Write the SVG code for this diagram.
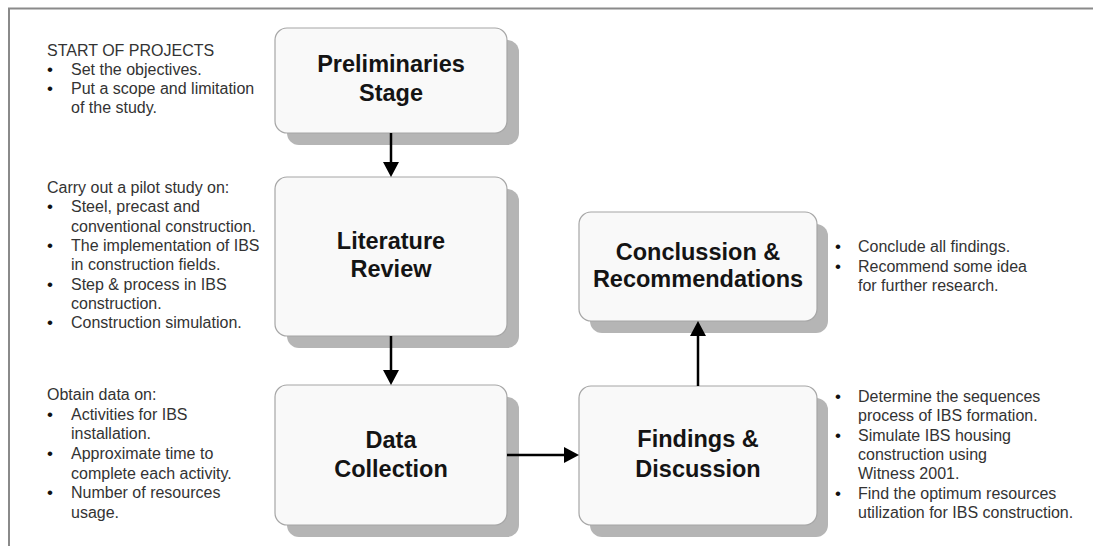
<svg xmlns="http://www.w3.org/2000/svg" width="1093" height="546" viewBox="0 0 1093 546">
<defs>
<style>
.frame{stroke:#8a8a8a;stroke-width:2;fill:none}
.shadow{fill:#b5b5b5}
.box{fill:#f9f9f9;stroke:#a6a6a6;stroke-width:1.2}
.title{font-family:"Liberation Sans",Arial,sans-serif;font-weight:bold;font-size:23.5px;fill:#141414;text-anchor:middle}
.body{font-family:"Liberation Sans",Arial,sans-serif;font-size:16px;fill:#333}
.bul{font-size:17px;fill:#111}
.conn{stroke:#000;stroke-width:2.5;fill:none;marker-end:url(#ah)}
</style>
<marker id="ah" markerWidth="16" markerHeight="16" refX="7" refY="8" orient="auto" markerUnits="userSpaceOnUse">
<path d="M0,0 L15,8 L0,16 z" fill="#000"/>
</marker>
</defs>
<rect width="1093" height="546" fill="#fff"/>
<path class="frame" d="M9,546 V8.5 H1093"/>

<g id="preliminaries">
<rect class="shadow" x="287" y="40" width="232" height="105" rx="12"/>
<rect class="box" x="275" y="28" width="232" height="105" rx="12"/>
<text class="title" x="391" y="72">Preliminaries</text>
<text class="title" x="391" y="101">Stage</text>
</g>

<g id="literature">
<rect class="shadow" x="287" y="189" width="232" height="159" rx="12"/>
<rect class="box" x="275" y="177" width="232" height="159" rx="12"/>
<text class="title" x="391" y="249">Literature</text>
<text class="title" x="391" y="277">Review</text>
</g>

<g id="data">
<rect class="shadow" x="287" y="397" width="232" height="140" rx="12"/>
<rect class="box" x="275" y="385" width="232" height="140" rx="12"/>
<text class="title" x="391" y="448">Data</text>
<text class="title" x="391" y="477">Collection</text>
</g>

<g id="conclusion">
<rect class="shadow" x="590" y="224" width="238" height="109" rx="12"/>
<rect class="box" x="579" y="212" width="238" height="109" rx="12"/>
<text class="title" x="698" y="260">Conclussion &amp;</text>
<text class="title" x="698" y="287">Recommendations</text>
</g>

<g id="findings">
<rect class="shadow" x="590" y="398" width="238" height="139" rx="12"/>
<rect class="box" x="579" y="386" width="238" height="139" rx="12"/>
<text class="title" x="698" y="447">Findings &amp;</text>
<text class="title" x="698" y="477">Discussion</text>
</g>

<g id="connectors">
<line class="conn" x1="391" y1="133" x2="391" y2="169"/>
<line class="conn" x1="391" y1="336" x2="391" y2="377"/>
<line class="conn" x1="507" y1="455" x2="571" y2="455"/>
<line class="conn" x1="698" y1="386" x2="698" y2="329"/>
</g>

<g id="note-start" class="body">
<text x="47" y="56">START OF PROJECTS</text>
<text class="bul" x="47" y="75">•</text><text x="71" y="75">Set the objectives.</text>
<text class="bul" x="47" y="94">•</text><text x="71" y="94">Put a scope and limitation</text>
<text x="71" y="113">of the study.</text>
</g>

<g id="note-literature" class="body">
<text x="47" y="193">Carry out a pilot study on:</text>
<text class="bul" x="47" y="212">•</text><text x="71" y="212">Steel, precast and</text>
<text x="71" y="232">conventional construction.</text>
<text class="bul" x="47" y="251">•</text><text x="71" y="251">The implementation of IBS</text>
<text x="71" y="270">in construction fields.</text>
<text class="bul" x="47" y="290">•</text><text x="71" y="290">Step &amp; process in IBS</text>
<text x="71" y="309">construction.</text>
<text class="bul" x="47" y="328">•</text><text x="71" y="328">Construction simulation.</text>
</g>

<g id="note-data" class="body">
<text x="47" y="400">Obtain data on:</text>
<text class="bul" x="47" y="420">•</text><text x="71" y="420">Activities for IBS</text>
<text x="71" y="439">installation.</text>
<text class="bul" x="47" y="459">•</text><text x="71" y="459">Approximate time to</text>
<text x="71" y="479">complete each activity.</text>
<text class="bul" x="47" y="498">•</text><text x="71" y="498">Number of resources</text>
<text x="71" y="518">usage.</text>
</g>

<g id="note-conclusion" class="body">
<text class="bul" x="835" y="252">•</text><text x="858" y="252">Conclude all findings.</text>
<text class="bul" x="835" y="272">•</text><text x="858" y="272">Recommend some idea</text>
<text x="858" y="291">for further research.</text>
</g>

<g id="note-findings" class="body">
<text class="bul" x="835" y="402">•</text><text x="858" y="402">Determine the sequences</text>
<text x="858" y="421">process of IBS formation.</text>
<text class="bul" x="835" y="441">•</text><text x="858" y="441">Simulate IBS housing</text>
<text x="858" y="460">construction using</text>
<text x="858" y="479">Witness 2001.</text>
<text class="bul" x="835" y="499">•</text><text x="858" y="499">Find the optimum resources</text>
<text x="858" y="518">utilization for IBS construction.</text>
</g>
</svg>
